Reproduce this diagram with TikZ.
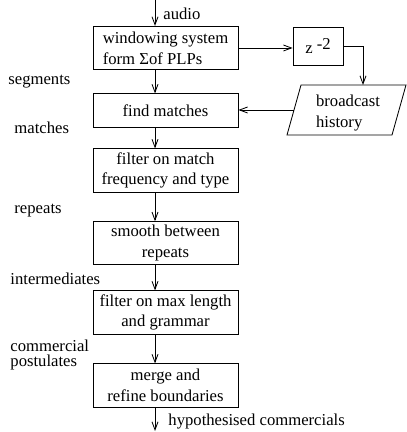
\documentclass[tikz,border=0pt]{standalone}
\usepackage{fontspec}
\setmainfont{Liberation Serif}
\usetikzlibrary{arrows.meta}

\begin{document}
\begin{tikzpicture}[x=0.6pt,y=-0.6pt,
        font=\fontsize{10}{12.5}\selectfont,
        line width=0.5pt,
        >={Straight Barb[length=4.8pt,width=3.6pt]},
        stage/.style={draw,minimum width=87pt,minimum height=26pt,align=center,inner sep=2pt},
        lbl/.style={anchor=west,inner sep=0pt,align=left}]
            \useasboundingbox (0,0) rectangle (406,432);
            \coordinate (In)  at (155,0);
            \coordinate (Out) at (155,431);
            \node [stage,align=left] (win)    at (165.5,48)    {windowing system\\form Σof PLPs};
            \node [stage,minimum height=20pt] (find) at (165.5,110.5) {find matches};
            \node [stage] (freq)   at (165.5,170.5) {filter on match\\frequency and type};
            \node [stage,minimum height=24pt] (smooth) at (165.5,243) {smooth between\\repeats};
            \node [stage] (maxlen) at (165.5,312.5) {filter on max length\\and grammar};
            \node [stage] (merge)  at (165.5,385.5) {merge and\\refine boundaries};
            \node [draw,minimum width=30pt,minimum height=22.8pt] (delay) at (318,46) {z \raisebox{0.6ex}{-2}};
            \coordinate (HA) at (287,135);
            \coordinate (HB) at (392,135);
            \coordinate (HC) at (406,85);
            \coordinate (HD) at (301,85);
            \coordinate (HTop)  at (363,85);
            \coordinate (HLeft) at (294,110);
            \draw (HA) -- (HB) -- (HC) -- (HD) -- cycle;
            \node [align=left] (hist) at (348,113) {broadcast\\history};
            \draw [->] (In) -- (win.north -| In);
            \draw [->] (win.south -| In) -- (find.north -| In);
            \draw [->] (find.south -| In) -- (freq.north -| In);
            \draw [->] (freq.south -| In) -- (smooth.north -| In);
            \draw [->] (smooth.south -| In) -- (maxlen.north -| In);
            \draw [->] (maxlen.south -| In) -- (merge.north -| In);
            \draw [->] (merge.south -| In) -- (Out);
            \draw [->] (win.east) -- (win.east -| delay.west);
            \draw [->] (delay.east) -| (HTop);
            \draw [->] (HLeft) -- (HLeft -| find.east);
            \node [lbl] (audio)  at (163,14)  {audio};
            \node [lbl] (seg)    at (8,82)    {segments};
            \node [lbl] (mat)    at (14,128)  {matches};
            \node [lbl] (rep)    at (14,211)  {repeats};
            \node [lbl] (inter)  at (10,279)  {intermediates};
            \node [lbl,font=\fontsize{10}{9}\selectfont] (post) at (10,355) {commercial\\postulates};
            \node [lbl] (hyp)    at (168,422) {hypothesised commercials};
        \end{tikzpicture}
\end{document}
